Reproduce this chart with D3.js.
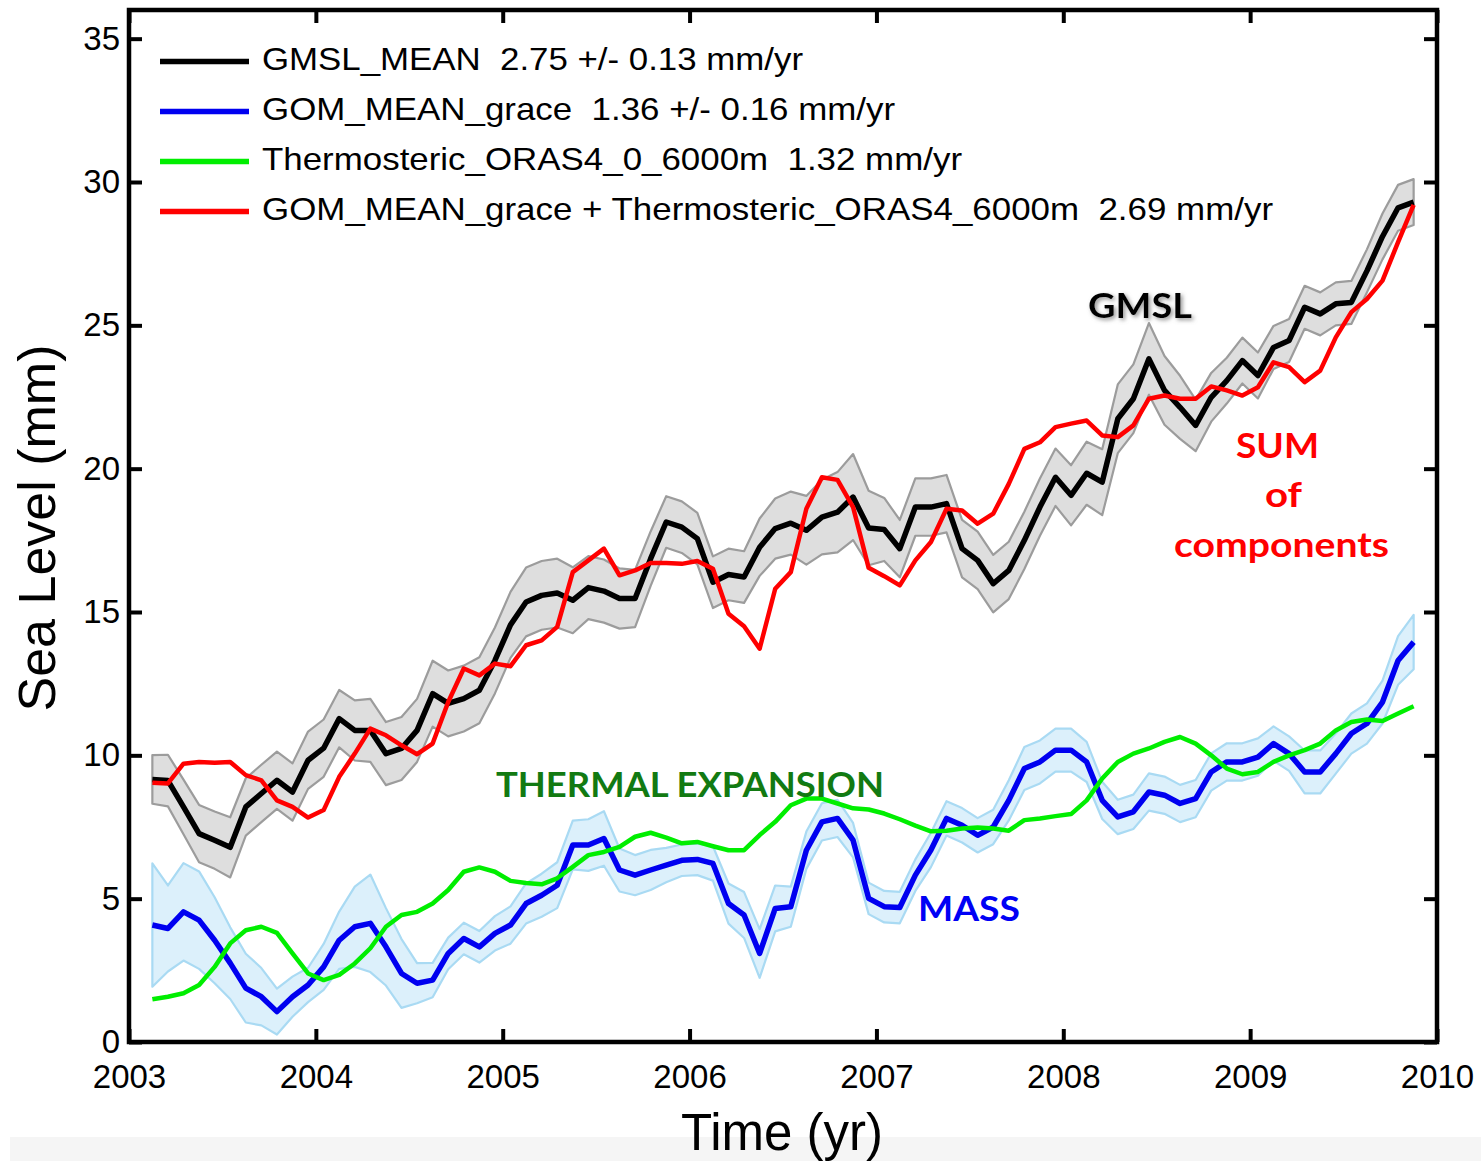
<!DOCTYPE html>
<html>
<head>
<meta charset="utf-8">
<script src="https://cdn.jsdelivr.net/npm/d3@7/dist/d3.min.js"></script>
<style>
  body { margin: 0; background: #fff; }
  svg { display: block; }
</style>
</head>
<body>
<svg id="chart" width="1481" height="1161"></svg>
<script>
// Monthly samples, Feb 2003 .. Nov 2009 (mid-month, decimal years)
const firstSample = 2003.125;
const monthStep = 1 / 12;

// Global mean sea level (altimetry), mm
const gmslMean = [
  9.16, 9.12, 8.20, 7.27, 7.04, 6.79, 8.20, 8.67, 9.13, 8.72,
  9.83, 10.25, 11.28, 10.87, 10.87, 10.06, 10.24, 10.87, 12.15, 11.81,
  11.98, 12.27, 13.31, 14.55, 15.35, 15.58, 15.66, 15.41, 15.85, 15.73,
  15.47, 15.47, 16.86, 18.14, 17.96, 17.56, 16.04, 16.31, 16.22, 17.26,
  17.91, 18.10, 17.85, 18.31, 18.48, 19.01, 17.93, 17.88, 17.21, 18.66,
  18.66, 18.78, 17.21, 16.80, 15.99, 16.45, 17.50, 18.66, 19.70, 19.07,
  19.84, 19.53, 21.74, 22.44, 23.83, 22.73, 22.14, 21.51, 22.49, 23.07,
  23.77, 23.25, 24.23, 24.47, 25.63, 25.40, 25.75, 25.80, 26.90, 28.10,
  29.10, 29.30
];
const gmslErr = [
  0.85, 0.90, 0.95, 1.00, 1.00, 1.05, 1.00, 1.00, 1.00, 1.00,
  1.00, 1.00, 1.00, 1.05, 1.10, 1.10, 1.10, 1.10, 1.15, 1.15,
  1.15, 1.15, 1.15, 1.15, 1.20, 1.20, 1.20, 1.15, 1.10, 1.10,
  1.05, 1.00, 0.95, 0.90, 0.90, 0.90, 0.90, 0.90, 0.90, 1.00,
  1.05, 1.10, 1.20, 1.30, 1.40, 1.50, 1.30, 1.10, 1.00, 1.00,
  1.00, 1.00, 1.00, 1.00, 1.00, 1.00, 1.00, 1.00, 1.00, 1.05,
  1.10, 1.15, 1.20, 1.20, 1.25, 1.20, 1.10, 0.90, 0.85, 0.80,
  0.80, 0.80, 0.75, 0.75, 0.75, 0.75, 0.75, 0.75, 0.75, 0.80,
  0.80, 0.80
];

// Ocean mass from GRACE, mm
const gomMean = [
  4.08, 3.96, 4.54, 4.25, 3.55, 2.75, 1.88, 1.58, 1.06, 1.58,
  1.99, 2.62, 3.55, 4.02, 4.14, 3.32, 2.39, 2.05, 2.16, 3.09,
  3.61, 3.32, 3.79, 4.08, 4.83, 5.12, 5.47, 6.87, 6.87, 7.10,
  6.00, 5.82, 6.00, 6.17, 6.34, 6.37, 6.23, 4.83, 4.43, 3.09,
  4.66, 4.72, 6.69, 7.68, 7.80, 7.04, 5.01, 4.72, 4.69, 5.82,
  6.70, 7.80, 7.56, 7.21, 7.50, 8.43, 9.54, 9.77, 10.18, 10.18,
  9.77, 8.43, 7.85, 8.03, 8.72, 8.61, 8.32, 8.49, 9.42, 9.77,
  9.77, 9.94, 10.41, 10.06, 9.42, 9.42, 10.06, 10.76, 11.11, 11.86,
  13.31, 13.95
];
const gomErr = [
  2.15, 1.50, 1.70, 1.70, 1.50, 1.25, 1.20, 1.00, 0.80, 0.70,
  0.60, 0.80, 1.00, 1.40, 1.70, 1.35, 1.20, 0.70, 0.60, 0.55,
  0.55, 0.55, 0.60, 0.65, 0.70, 0.75, 0.80, 0.85, 0.90, 0.95,
  0.75, 0.70, 0.70, 0.60, 0.55, 0.55, 0.60, 0.70, 0.80, 0.85,
  0.80, 0.70, 0.65, 0.65, 0.65, 0.60, 0.55, 0.55, 0.55, 0.55,
  0.60, 0.60, 0.60, 0.60, 0.60, 0.70, 0.75, 0.75, 0.75, 0.75,
  0.70, 0.65, 0.60, 0.60, 0.65, 0.65, 0.65, 0.65, 0.65, 0.65,
  0.65, 0.65, 0.60, 0.60, 0.75, 0.75, 0.70, 0.70, 0.70, 0.75,
  0.85, 0.95
];

// Thermosteric sea level, ORAS4 0-6000 m, mm
const thermosteric = [
  1.49, 1.58, 1.70, 1.99, 2.62, 3.44, 3.90, 4.02, 3.81, 3.09,
  2.39, 2.16, 2.34, 2.74, 3.27, 4.02, 4.43, 4.54, 4.83, 5.30,
  5.94, 6.09, 5.94, 5.62, 5.55, 5.50, 5.71, 6.11, 6.52, 6.63,
  6.81, 7.16, 7.30, 7.13, 6.93, 6.98, 6.83, 6.69, 6.69, 7.22,
  7.68, 8.26, 8.49, 8.49, 8.32, 8.15, 8.11, 7.97, 7.77, 7.55,
  7.35, 7.37, 7.45, 7.48, 7.45, 7.37, 7.74, 7.80, 7.88, 7.95,
  8.43, 9.19, 9.77, 10.06, 10.24, 10.47, 10.64, 10.41, 10.00, 9.54,
  9.34, 9.42, 9.77, 10.00, 10.18, 10.41, 10.87, 11.16, 11.25, 11.20,
  11.46, 11.71
];

// Sum of components (mass + thermosteric), mm
const sumComponents = [
  9.04, 9.02, 9.71, 9.77, 9.74, 9.77, 9.31, 9.13, 8.43, 8.20,
  7.83, 8.09, 9.25, 10.06, 10.93, 10.70, 10.35, 10.04, 10.41, 11.86,
  13.03, 12.79, 13.20, 13.11, 13.84, 14.01, 14.48, 16.39, 16.80, 17.21,
  16.28, 16.45, 16.71, 16.71, 16.68, 16.78, 16.51, 14.94, 14.50, 13.72,
  15.81, 16.39, 18.60, 19.70, 19.61, 18.66, 16.54, 16.25, 15.93, 16.80,
  17.44, 18.60, 18.54, 18.08, 18.43, 19.47, 20.69, 20.92, 21.45, 21.57,
  21.68, 21.16, 21.10, 21.51, 22.44, 22.55, 22.44, 22.44, 22.87, 22.73,
  22.55, 22.84, 23.71, 23.54, 23.02, 23.42, 24.58, 25.46, 25.92, 26.56,
  27.90, 29.20
];

const xTicks = [2003, 2004, 2005, 2006, 2007, 2008, 2009, 2010];
const yTicks = [0, 5, 10, 15, 20, 25, 30, 35];

const legendLabels = [
  "GMSL_MEAN  2.75 +/- 0.13 mm/yr",
  "GOM_MEAN_grace  1.36 +/- 0.16 mm/yr",
  "Thermosteric_ORAS4_0_6000m  1.32 mm/yr",
  "GOM_MEAN_grace + Thermosteric_ORAS4_6000m  2.69 mm/yr"
];
const legendColors = ["#000000", "#0000f0", "#00ee00", "#ff0000"];

// ---------------------------------------------------------------
const svg = d3.select("#chart");
const W = 1481, H = 1161;
const plot = { left: 129, right: 1437, top: 10, bottom: 1042 };

const x = d3.scaleLinear().domain([2003, 2010]).range([plot.left, plot.right]);
const y = d3.scaleLinear().domain([0, 36]).range([plot.bottom, plot.top]);

const tOf = i => firstSample + i * monthStep;
const axisFont = "'Liberation Sans', Arial, Helvetica, sans-serif";
const labelFont = "Lato, 'Open Sans', sans-serif";

svg.append("rect").attr("width", W).attr("height", H).attr("fill", "#fff");
// light strip along the bottom edge
svg.append("rect").attr("x", 10).attr("y", 1137).attr("width", W - 10).attr("height", H - 1137)
  .attr("fill", "#f5f5f5");

const defs = svg.append("defs");
defs.append("clipPath").attr("id", "plotClip").append("rect")
  .attr("x", plot.left).attr("y", plot.top)
  .attr("width", plot.right - plot.left).attr("height", plot.bottom - plot.top);
const shadow = defs.append("filter").attr("id", "soft").attr("x", "-20%").attr("y", "-40%")
  .attr("width", "140%").attr("height", "180%");
shadow.append("feDropShadow").attr("dx", 2).attr("dy", 2).attr("stdDeviation", 2)
  .attr("flood-color", "#777").attr("flood-opacity", 0.8);

const g = svg.append("g").attr("clip-path", "url(#plotClip)");

const band = (vals, errs) => d3.area()
  .x((d, i) => x(tOf(i)))
  .y0((d, i) => y(vals[i] - errs[i]))
  .y1((d, i) => y(vals[i] + errs[i]));

const line = d3.line().x((d, i) => x(tOf(i))).y(d => y(d));

// uncertainty envelopes
g.append("path").datum(gomMean).attr("d", band(gomMean, gomErr))
  .attr("fill", "#dcf0fb").attr("stroke", "#a9daf3").attr("stroke-width", 2.2)
  .attr("stroke-linejoin", "round");
g.append("path").datum(gmslMean).attr("d", band(gmslMean, gmslErr))
  .attr("fill", "#dedede").attr("stroke", "#9c9c9c").attr("stroke-width", 2.2)
  .attr("stroke-linejoin", "round");

// series
const series = [
  { vals: gmslMean, color: legendColors[0], w: 5.5 },
  { vals: gomMean, color: legendColors[1], w: 5.5 },
  { vals: thermosteric, color: legendColors[2], w: 4.5 },
  { vals: sumComponents, color: legendColors[3], w: 4.5 }
];
series.forEach(s => {
  g.append("path").datum(s.vals).attr("d", line)
    .attr("fill", "none").attr("stroke", s.color).attr("stroke-width", s.w)
    .attr("stroke-linejoin", "round").attr("stroke-linecap", "butt");
});

// axes with inward ticks on all four sides
const tickLen = 13;
const styleAxis = sel => {
  sel.select(".domain").remove();
  sel.selectAll(".tick line").attr("stroke", "#000").attr("stroke-width", 4);
  sel.selectAll(".tick text").attr("fill", "#000")
    .style("font-family", axisFont).style("font-size", "33px");
};

svg.append("g").attr("transform", `translate(0,${plot.bottom})`)
  .call(d3.axisBottom(x).tickValues(xTicks).tickFormat(d3.format("d"))
    .tickSize(-tickLen).tickPadding(23))
  .call(styleAxis);
svg.append("g").attr("transform", `translate(0,${plot.top})`)
  .call(d3.axisTop(x).tickValues(xTicks).tickFormat("").tickSize(-tickLen))
  .call(styleAxis);
svg.append("g").attr("transform", `translate(${plot.left},0)`)
  .call(d3.axisLeft(y).tickValues(yTicks).tickFormat(d3.format("d"))
    .tickSize(-tickLen).tickPadding(9))
  .call(styleAxis);
svg.append("g").attr("transform", `translate(${plot.right},0)`)
  .call(d3.axisRight(y).tickValues(yTicks).tickFormat("").tickSize(-tickLen))
  .call(styleAxis);

// frame
svg.append("rect")
  .attr("x", plot.left).attr("y", plot.top)
  .attr("width", plot.right - plot.left).attr("height", plot.bottom - plot.top)
  .attr("fill", "none").attr("stroke", "#000").attr("stroke-width", 4.5);

// axis titles
svg.append("text").attr("x", 782).attr("y", 1150).attr("text-anchor", "middle")
  .style("font-family", axisFont).style("font-size", "51px").attr("fill", "#000")
  .text("Time (yr)");
svg.append("text").attr("transform", "translate(55,528) rotate(-90)").attr("text-anchor", "middle")
  .style("font-family", axisFont).style("font-size", "52px").attr("fill", "#000")
  .text("Sea Level (mm)");

// legend
const legendWidths = [541, 633, 700, 1011];
const legend = svg.append("g");
legendLabels.forEach((lab, i) => {
  const ly = 61.5 + i * 50;
  legend.append("line").attr("x1", 160).attr("x2", 249).attr("y1", ly).attr("y2", ly)
    .attr("stroke", legendColors[i]).attr("stroke-width", 5.5);
  legend.append("text").attr("x", 262).attr("y", ly + 8.5)
    .style("font-family", axisFont).style("font-size", "32px").style("white-space", "pre")
    .attr("textLength", legendWidths[i]).attr("lengthAdjust", "spacingAndGlyphs")
    .attr("fill", "#000").text(lab);
});

// in-plot annotations
const notes = [
  { t: "GMSL", x: 1088, y: 318, w: 104, c: "#000", shadow: true },
  { t: "THERMAL EXPANSION", x: 496, y: 797, w: 388, c: "#127a12" },
  { t: "MASS", x: 918, y: 921, w: 102, c: "#0000f5" },
  { t: "SUM", x: 1236, y: 458, w: 83, c: "#ff0000" },
  { t: "of", x: 1265, y: 507, w: 37, c: "#ff0000" },
  { t: "components", x: 1174, y: 557, w: 215, c: "#ff0000" }
];
notes.forEach(n => {
  const t = svg.append("text").attr("x", n.x).attr("y", n.y)
    .style("font-family", labelFont).style("font-weight", "700").style("font-size", "35px")
    .attr("textLength", n.w).attr("lengthAdjust", "spacingAndGlyphs")
    .attr("fill", n.c).text(n.t);
  if (n.shadow) t.attr("filter", "url(#soft)");
});
</script>
</body>
</html>
